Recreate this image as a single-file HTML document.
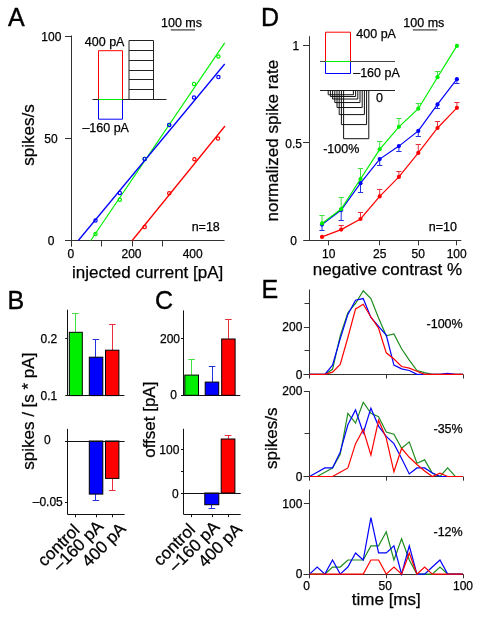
<!DOCTYPE html>
<html><head><meta charset="utf-8"><style>
html,body{margin:0;padding:0;background:#fff;width:482px;height:617px;overflow:hidden}
svg{display:block;will-change:transform}
text{font-family:"Liberation Sans", sans-serif;fill:#000;stroke:#000;stroke-width:0.25px}
</style></head><body>
<svg width="482" height="617" viewBox="0 0 482 617">
<rect width="482" height="617" fill="#fff"/>
<text x="8" y="26" font-size="25" text-anchor="start" style="stroke-width:0.4px">A</text>
<line x1="71.5" y1="35.5" x2="71.5" y2="246.5" stroke="#333" stroke-width="1"/>
<line x1="65" y1="240.5" x2="224.5" y2="240.5" stroke="#333" stroke-width="1"/>
<line x1="65" y1="36.5" x2="71.5" y2="36.5" stroke="#333" stroke-width="1"/>
<line x1="65" y1="138.5" x2="71.5" y2="138.5" stroke="#333" stroke-width="1"/>
<line x1="71.5" y1="240.5" x2="71.5" y2="246.5" stroke="#333" stroke-width="1"/>
<line x1="101.5" y1="240.5" x2="101.5" y2="246.5" stroke="#333" stroke-width="1"/>
<line x1="132.5" y1="240.5" x2="132.5" y2="246.5" stroke="#333" stroke-width="1"/>
<line x1="162.5" y1="240.5" x2="162.5" y2="246.5" stroke="#333" stroke-width="1"/>
<text x="51.3" y="40.8" font-size="12" text-anchor="middle" >100</text>
<text x="51.0" y="142.6" font-size="12" text-anchor="middle" >50</text>
<text x="51.2" y="245.0" font-size="12" text-anchor="middle" >0</text>
<text x="70.9" y="258.0" font-size="12" text-anchor="middle" >0</text>
<text x="131.5" y="258.0" font-size="12" text-anchor="middle" >200</text>
<text x="192.7" y="258.0" font-size="12" text-anchor="middle" >400</text>
<text x="72.1" y="277.6" font-size="17" text-anchor="start" >injected current [pA]</text>
<text x="0" y="0" font-size="17" text-anchor="middle" transform="translate(33.8,135) rotate(-90)">spikes/s</text>
<text x="219.8" y="231" font-size="12.5" text-anchor="end" >n=18</text>
<text x="161" y="26.6" font-size="12.5" text-anchor="start" >100 ms</text>
<line x1="170.7" y1="29.9" x2="195.1" y2="29.9" stroke="#555" stroke-width="1.4"/>
<path d="M98.5,99.7 V50.7 H122.5 V99.7" stroke="#ff0000" stroke-width="1" fill="none" />
<path d="M98.5,99.7 V119.2 H122.5 V99.7" stroke="#0000ff" stroke-width="1" fill="none" />
<line x1="92.5" y1="99.5" x2="166.5" y2="99.5" stroke="#222" stroke-width="1"/>
<line x1="98.5" y1="99.5" x2="122.5" y2="99.5" stroke="#00ee00" stroke-width="1"/>
<path d="M129,99.7 V40.5 H153.5 V99.7" stroke="#222" stroke-width="1" fill="none" />
<line x1="129" y1="50.5" x2="153.5" y2="50.5" stroke="#222" stroke-width="1"/>
<line x1="129" y1="60.5" x2="153.5" y2="60.5" stroke="#222" stroke-width="1"/>
<line x1="129" y1="70.5" x2="153.5" y2="70.5" stroke="#222" stroke-width="1"/>
<line x1="129" y1="79.5" x2="153.5" y2="79.5" stroke="#222" stroke-width="1"/>
<line x1="129" y1="89.5" x2="153.5" y2="89.5" stroke="#222" stroke-width="1"/>
<text x="84.8" y="45.8" font-size="12.5" text-anchor="start" >400 pA</text>
<text x="82.4" y="132" font-size="12.5" text-anchor="start" >–160 pA</text>
<line x1="90.7" y1="240.5" x2="224.7" y2="42.9" stroke="#00ee00" stroke-width="1.15"/>
<line x1="78.3" y1="240.5" x2="224.7" y2="64" stroke="#0000ff" stroke-width="1.3"/>
<line x1="132.2" y1="240.5" x2="225" y2="126" stroke="#ff0000" stroke-width="1.3"/>
<circle cx="95.5" cy="234.00" r="1.65" stroke="#00ee00" stroke-width="1.2" fill="none"/>
<circle cx="119.8" cy="199.80" r="1.65" stroke="#00ee00" stroke-width="1.2" fill="none"/>
<circle cx="144.7" cy="158.90" r="1.65" stroke="#00ee00" stroke-width="1.2" fill="none"/>
<circle cx="169.2" cy="124.90" r="1.65" stroke="#00ee00" stroke-width="1.2" fill="none"/>
<circle cx="194" cy="83.90" r="1.65" stroke="#00ee00" stroke-width="1.2" fill="none"/>
<circle cx="218.4" cy="56.50" r="1.65" stroke="#00ee00" stroke-width="1.2" fill="none"/>
<circle cx="95.5" cy="220.50" r="1.65" stroke="#0000ff" stroke-width="1.2" fill="none"/>
<circle cx="119.8" cy="192.90" r="1.65" stroke="#0000ff" stroke-width="1.2" fill="none"/>
<circle cx="144.7" cy="158.90" r="1.65" stroke="#0000ff" stroke-width="1.2" fill="none"/>
<circle cx="169.2" cy="124.90" r="1.65" stroke="#0000ff" stroke-width="1.2" fill="none"/>
<circle cx="194" cy="97.50" r="1.65" stroke="#0000ff" stroke-width="1.2" fill="none"/>
<circle cx="218.4" cy="77.10" r="1.65" stroke="#0000ff" stroke-width="1.2" fill="none"/>
<circle cx="144.7" cy="227.10" r="1.65" stroke="#ff0000" stroke-width="1.2" fill="none"/>
<circle cx="169.2" cy="193.30" r="1.65" stroke="#ff0000" stroke-width="1.2" fill="none"/>
<circle cx="194.4" cy="159.30" r="1.65" stroke="#ff0000" stroke-width="1.2" fill="none"/>
<circle cx="218" cy="138.60" r="1.65" stroke="#ff0000" stroke-width="1.2" fill="none"/>
<text x="261.0" y="25.9" font-size="25" text-anchor="start" style="stroke-width:0.4px">D</text>
<line x1="309.5" y1="36.2" x2="309.5" y2="240.5" stroke="#333" stroke-width="1"/>
<line x1="303.2" y1="240.5" x2="461.3" y2="240.5" stroke="#333" stroke-width="1"/>
<line x1="303" y1="45.5" x2="309.5" y2="45.5" stroke="#333" stroke-width="1"/>
<line x1="303" y1="142.5" x2="309.5" y2="142.5" stroke="#333" stroke-width="1"/>
<line x1="328.5" y1="240.5" x2="328.5" y2="245.3" stroke="#333" stroke-width="1"/>
<text x="328.8" y="257.5" font-size="12" text-anchor="middle" >10</text>
<line x1="379.5" y1="240.5" x2="379.5" y2="245.3" stroke="#333" stroke-width="1"/>
<text x="379.69652710915364" y="257.5" font-size="12" text-anchor="middle" >25</text>
<line x1="418.5" y1="240.5" x2="418.5" y2="245.3" stroke="#333" stroke-width="1"/>
<text x="418.19826355457684" y="257.5" font-size="12" text-anchor="middle" >50</text>
<line x1="456.5" y1="240.5" x2="456.5" y2="245.3" stroke="#333" stroke-width="1"/>
<text x="456.70000000000005" y="257.5" font-size="12" text-anchor="middle" >100</text>
<text x="299.2" y="49.9" font-size="12" text-anchor="end" >1</text>
<text x="301.9" y="147.6" font-size="12" text-anchor="end" >0.5</text>
<text x="297" y="244.8" font-size="12" text-anchor="end" >0</text>
<text x="312.8" y="274.9" font-size="17" text-anchor="start" >negative contrast %</text>
<text x="0" y="0" font-size="17" text-anchor="middle" transform="translate(277.5,140.7) rotate(-90)">normalized spike rate</text>
<text x="456.9" y="231.2" font-size="12.5" text-anchor="end" >n=10</text>
<text x="403.3" y="26.6" font-size="12.5" text-anchor="start" >100 ms</text>
<line x1="412.9" y1="29.9" x2="437.3" y2="29.9" stroke="#555" stroke-width="1.4"/>
<path d="M325.5,61.8 V32.2 H350.5 V61.8" stroke="#ff0000" stroke-width="1" fill="none" />
<path d="M325.5,61.8 V73.5 H350.5 V61.8" stroke="#0000ff" stroke-width="1" fill="none" />
<line x1="320" y1="61.5" x2="395" y2="61.5" stroke="#444" stroke-width="1"/>
<line x1="325.5" y1="61.5" x2="350.5" y2="61.5" stroke="#00ee00" stroke-width="1"/>
<text x="356.3" y="38.3" font-size="12.5" text-anchor="start" >400 pA</text>
<text x="353.2" y="77.1" font-size="12.5" text-anchor="start" >–160 pA</text>
<line x1="320" y1="90.5" x2="395" y2="90.5" stroke="#222" stroke-width="1"/>
<path d="M343.60,90.5 V138.70 H368.80 V90.5" stroke="#111" stroke-width="1" fill="none" />
<path d="M341.40,90.5 V124.58 H366.60 V90.5" stroke="#111" stroke-width="1" fill="none" />
<path d="M339.20,90.5 V114.60 H364.40 V90.5" stroke="#111" stroke-width="1" fill="none" />
<path d="M337.00,90.5 V107.54 H362.20 V90.5" stroke="#111" stroke-width="1" fill="none" />
<path d="M334.80,90.5 V102.55 H360.00 V90.5" stroke="#111" stroke-width="1" fill="none" />
<path d="M332.60,90.5 V99.02 H357.80 V90.5" stroke="#111" stroke-width="1" fill="none" />
<path d="M330.40,90.5 V96.53 H355.60 V90.5" stroke="#111" stroke-width="1" fill="none" />
<path d="M328.20,90.5 V94.76 H353.40 V90.5" stroke="#111" stroke-width="1" fill="none" />
<text x="376" y="101.6" font-size="12.5" text-anchor="start" >0</text>
<text x="323.2" y="152.9" font-size="12.5" text-anchor="start" >-100%</text>
<line x1="341.2" y1="229.6" x2="341.2" y2="225.1" stroke="#e8303c" stroke-width="1"/>
<line x1="338.59999999999997" y1="225.5" x2="343.8" y2="225.5" stroke="#e8303c" stroke-width="1"/>
<line x1="360.5" y1="219" x2="360.5" y2="212.6" stroke="#e8303c" stroke-width="1"/>
<line x1="357.9" y1="212.5" x2="363.1" y2="212.5" stroke="#e8303c" stroke-width="1"/>
<line x1="379.7" y1="196.4" x2="379.7" y2="189.8" stroke="#e8303c" stroke-width="1"/>
<line x1="377.09999999999997" y1="189.5" x2="382.3" y2="189.5" stroke="#e8303c" stroke-width="1"/>
<line x1="398.9" y1="176.9" x2="398.9" y2="171.5" stroke="#e8303c" stroke-width="1"/>
<line x1="396.29999999999995" y1="171.5" x2="401.5" y2="171.5" stroke="#e8303c" stroke-width="1"/>
<line x1="418.3" y1="152.9" x2="418.3" y2="144.5" stroke="#e8303c" stroke-width="1"/>
<line x1="415.7" y1="144.5" x2="420.90000000000003" y2="144.5" stroke="#e8303c" stroke-width="1"/>
<line x1="437.5" y1="128" x2="437.5" y2="121.8" stroke="#e8303c" stroke-width="1"/>
<line x1="434.9" y1="121.5" x2="440.1" y2="121.5" stroke="#e8303c" stroke-width="1"/>
<line x1="456.9" y1="107.8" x2="456.9" y2="102.6" stroke="#e8303c" stroke-width="1"/>
<line x1="454.29999999999995" y1="102.5" x2="459.5" y2="102.5" stroke="#e8303c" stroke-width="1"/>
<path d="M322.00,236.90 L341.20,229.60 L360.50,219.00 L379.70,196.40 L398.90,176.90 L418.30,152.90 L437.50,128.00 L456.90,107.80" stroke="#ff0000" stroke-width="1.2" fill="none" stroke-linejoin="miter"/>
<circle cx="322" cy="236.9" r="2.1" fill="#ff0000"/>
<circle cx="341.2" cy="229.6" r="2.1" fill="#ff0000"/>
<circle cx="360.5" cy="219" r="2.1" fill="#ff0000"/>
<circle cx="379.7" cy="196.4" r="2.1" fill="#ff0000"/>
<circle cx="398.9" cy="176.9" r="2.1" fill="#ff0000"/>
<circle cx="418.3" cy="152.9" r="2.1" fill="#ff0000"/>
<circle cx="437.5" cy="128" r="2.1" fill="#ff0000"/>
<circle cx="456.9" cy="107.8" r="2.1" fill="#ff0000"/>
<line x1="322" y1="224.6" x2="322" y2="230.9" stroke="#2233dd" stroke-width="1"/>
<line x1="319.4" y1="230.5" x2="324.6" y2="230.5" stroke="#2233dd" stroke-width="1"/>
<line x1="341.2" y1="210.1" x2="341.2" y2="220.9" stroke="#2233dd" stroke-width="1"/>
<line x1="338.59999999999997" y1="220.5" x2="343.8" y2="220.5" stroke="#2233dd" stroke-width="1"/>
<line x1="360.5" y1="183.2" x2="360.5" y2="192.3" stroke="#2233dd" stroke-width="1"/>
<line x1="357.9" y1="192.5" x2="363.1" y2="192.5" stroke="#2233dd" stroke-width="1"/>
<line x1="379.7" y1="159.1" x2="379.7" y2="165.9" stroke="#2233dd" stroke-width="1"/>
<line x1="377.09999999999997" y1="165.5" x2="382.3" y2="165.5" stroke="#2233dd" stroke-width="1"/>
<line x1="398.9" y1="146.1" x2="398.9" y2="151.4" stroke="#2233dd" stroke-width="1"/>
<line x1="396.29999999999995" y1="151.5" x2="401.5" y2="151.5" stroke="#2233dd" stroke-width="1"/>
<line x1="418.3" y1="130.9" x2="418.3" y2="136.1" stroke="#2233dd" stroke-width="1"/>
<line x1="415.7" y1="136.5" x2="420.90000000000003" y2="136.5" stroke="#2233dd" stroke-width="1"/>
<line x1="437.5" y1="104.4" x2="437.5" y2="108.2" stroke="#2233dd" stroke-width="1"/>
<line x1="434.9" y1="108.5" x2="440.1" y2="108.5" stroke="#2233dd" stroke-width="1"/>
<line x1="456.9" y1="79.2" x2="456.9" y2="83.3" stroke="#2233dd" stroke-width="1"/>
<line x1="454.29999999999995" y1="83.5" x2="459.5" y2="83.5" stroke="#2233dd" stroke-width="1"/>
<path d="M322.00,224.60 L341.20,210.10 L360.50,183.20 L379.70,159.10 L398.90,146.10 L418.30,130.90 L437.50,104.40 L456.90,79.20" stroke="#0000ff" stroke-width="1.2" fill="none" stroke-linejoin="miter"/>
<circle cx="322" cy="224.6" r="2.1" fill="#0000ff"/>
<circle cx="341.2" cy="210.1" r="2.1" fill="#0000ff"/>
<circle cx="360.5" cy="183.2" r="2.1" fill="#0000ff"/>
<circle cx="379.7" cy="159.1" r="2.1" fill="#0000ff"/>
<circle cx="398.9" cy="146.1" r="2.1" fill="#0000ff"/>
<circle cx="418.3" cy="130.9" r="2.1" fill="#0000ff"/>
<circle cx="437.5" cy="104.4" r="2.1" fill="#0000ff"/>
<circle cx="456.9" cy="79.2" r="2.1" fill="#0000ff"/>
<line x1="322" y1="223.4" x2="322" y2="215.1" stroke="#40e040" stroke-width="1"/>
<line x1="319.4" y1="215.5" x2="324.6" y2="215.5" stroke="#40e040" stroke-width="1"/>
<line x1="341.2" y1="209.1" x2="341.2" y2="197.5" stroke="#40e040" stroke-width="1"/>
<line x1="338.59999999999997" y1="197.5" x2="343.8" y2="197.5" stroke="#40e040" stroke-width="1"/>
<line x1="360.5" y1="179" x2="360.5" y2="168.4" stroke="#40e040" stroke-width="1"/>
<line x1="357.9" y1="168.5" x2="363.1" y2="168.5" stroke="#40e040" stroke-width="1"/>
<line x1="379.7" y1="149.3" x2="379.7" y2="141.7" stroke="#40e040" stroke-width="1"/>
<line x1="377.09999999999997" y1="141.5" x2="382.3" y2="141.5" stroke="#40e040" stroke-width="1"/>
<line x1="398.9" y1="126.8" x2="398.9" y2="118" stroke="#40e040" stroke-width="1"/>
<line x1="396.29999999999995" y1="118.5" x2="401.5" y2="118.5" stroke="#40e040" stroke-width="1"/>
<line x1="418.3" y1="108.7" x2="418.3" y2="103" stroke="#40e040" stroke-width="1"/>
<line x1="415.7" y1="103.5" x2="420.90000000000003" y2="103.5" stroke="#40e040" stroke-width="1"/>
<line x1="437.5" y1="77.2" x2="437.5" y2="71.5" stroke="#40e040" stroke-width="1"/>
<line x1="434.9" y1="71.5" x2="440.1" y2="71.5" stroke="#40e040" stroke-width="1"/>
<path d="M322.00,223.40 L341.20,209.10 L360.50,179.00 L379.70,149.30 L398.90,126.80 L418.30,108.70 L437.50,77.20 L456.90,45.90" stroke="#00ee00" stroke-width="1.2" fill="none" stroke-linejoin="miter"/>
<circle cx="322" cy="223.4" r="2.1" fill="#00ee00"/>
<circle cx="341.2" cy="209.1" r="2.1" fill="#00ee00"/>
<circle cx="360.5" cy="179" r="2.1" fill="#00ee00"/>
<circle cx="379.7" cy="149.3" r="2.1" fill="#00ee00"/>
<circle cx="398.9" cy="126.8" r="2.1" fill="#00ee00"/>
<circle cx="418.3" cy="108.7" r="2.1" fill="#00ee00"/>
<circle cx="437.5" cy="77.2" r="2.1" fill="#00ee00"/>
<circle cx="456.9" cy="45.9" r="2.1" fill="#00ee00"/>
<text x="7.4" y="308.6" font-size="25" text-anchor="start" style="stroke-width:0.4px">B</text>
<line x1="67.5" y1="309.7" x2="67.5" y2="395.6" stroke="#111" stroke-width="1"/>
<line x1="65.3" y1="395.5" x2="124.4" y2="395.5" stroke="#111" stroke-width="1"/>
<line x1="65.3" y1="338.5" x2="67.5" y2="338.5" stroke="#111" stroke-width="1"/>
<text x="57.2" y="342.5" font-size="12" text-anchor="end" >0.2</text>
<text x="57.2" y="399.7" font-size="12" text-anchor="end" >0.1</text>
<line x1="75.5" y1="332.3" x2="75.5" y2="313.4" stroke="#40e040" stroke-width="1"/>
<line x1="72.0" y1="313.5" x2="78.6" y2="313.5" stroke="#40e040" stroke-width="1"/>
<line x1="95.5" y1="357.2" x2="95.5" y2="339.4" stroke="#2233dd" stroke-width="1"/>
<line x1="92.60000000000001" y1="339.5" x2="99.2" y2="339.5" stroke="#2233dd" stroke-width="1"/>
<line x1="112.5" y1="350.2" x2="112.5" y2="324.8" stroke="#e8303c" stroke-width="1"/>
<line x1="109.0" y1="324.5" x2="115.6" y2="324.5" stroke="#e8303c" stroke-width="1"/>
<rect x="69.3" y="332.3" width="13.0" height="63.30000000000001" fill="#00ee00" stroke="#000" stroke-width="1"/>
<rect x="89.3" y="357.2" width="13.5" height="38.400000000000034" fill="#0000ff" stroke="#000" stroke-width="1"/>
<rect x="105.5" y="350.2" width="13.400000000000006" height="45.400000000000034" fill="#ff0000" stroke="#000" stroke-width="1"/>
<line x1="67.5" y1="428.9" x2="67.5" y2="514.5" stroke="#111" stroke-width="1"/>
<line x1="67.5" y1="514.5" x2="124.6" y2="514.5" stroke="#111" stroke-width="1"/>
<line x1="75.5" y1="514.5" x2="75.5" y2="517.3" stroke="#111" stroke-width="1"/>
<line x1="96.5" y1="514.5" x2="96.5" y2="517.3" stroke="#111" stroke-width="1"/>
<line x1="112.5" y1="514.5" x2="112.5" y2="517.3" stroke="#111" stroke-width="1"/>
<line x1="65" y1="502.5" x2="67.5" y2="502.5" stroke="#111" stroke-width="1"/>
<line x1="95.5" y1="494.1" x2="95.5" y2="500.3" stroke="#2233dd" stroke-width="1"/>
<line x1="92.60000000000001" y1="500.5" x2="99.2" y2="500.5" stroke="#2233dd" stroke-width="1"/>
<line x1="112.5" y1="478.4" x2="112.5" y2="490.1" stroke="#e8303c" stroke-width="1"/>
<line x1="109.0" y1="490.5" x2="115.6" y2="490.5" stroke="#e8303c" stroke-width="1"/>
<rect x="89.3" y="441" width="13.5" height="53.10000000000002" fill="#0000ff" stroke="#000" stroke-width="1"/>
<rect x="105.5" y="441" width="13.400000000000006" height="37.39999999999998" fill="#ff0000" stroke="#000" stroke-width="1"/>
<line x1="65" y1="441.5" x2="124.6" y2="441.5" stroke="#111" stroke-width="1"/>
<text x="50.6" y="444" font-size="12" text-anchor="end" >0</text>
<text x="62.8" y="506.2" font-size="12" text-anchor="end" >–0.05</text>
<text x="0" y="0" font-size="17" text-anchor="middle" transform="translate(33.5,411.2) rotate(-90)">spikes / [s * pA]</text>
<text x="0" y="0" font-size="17" text-anchor="end" transform="translate(80.6,531.1) rotate(-45)">control</text>
<text x="0" y="0" font-size="17" text-anchor="end" transform="translate(104.3,527.4) rotate(-45)">–160 pA</text>
<text x="0" y="0" font-size="17" text-anchor="end" transform="translate(126.9,529.8) rotate(-45)">400 pA</text>
<text x="155" y="308.6" font-size="25" text-anchor="start" style="stroke-width:0.4px">C</text>
<line x1="183.5" y1="310.4" x2="183.5" y2="395.3" stroke="#111" stroke-width="1"/>
<line x1="181" y1="395.5" x2="240.3" y2="395.5" stroke="#111" stroke-width="1"/>
<line x1="181" y1="338.5" x2="183.5" y2="338.5" stroke="#111" stroke-width="1"/>
<text x="180" y="342.5" font-size="12" text-anchor="end" >200</text>
<text x="177" y="398.7" font-size="12" text-anchor="end" >0</text>
<line x1="191.5" y1="375.1" x2="191.5" y2="359.2" stroke="#40e040" stroke-width="1"/>
<line x1="188.29999999999998" y1="359.5" x2="194.9" y2="359.5" stroke="#40e040" stroke-width="1"/>
<line x1="212.5" y1="382.1" x2="212.5" y2="366.4" stroke="#2233dd" stroke-width="1"/>
<line x1="208.79999999999998" y1="366.5" x2="215.4" y2="366.5" stroke="#2233dd" stroke-width="1"/>
<line x1="228.5" y1="339" x2="228.5" y2="319.3" stroke="#e8303c" stroke-width="1"/>
<line x1="225.1" y1="319.5" x2="231.70000000000002" y2="319.5" stroke="#e8303c" stroke-width="1"/>
<rect x="184.8" y="375.1" width="13.699999999999989" height="20.19999999999999" fill="#00ee00" stroke="#000" stroke-width="1"/>
<rect x="205.2" y="382.1" width="13.5" height="13.199999999999989" fill="#0000ff" stroke="#000" stroke-width="1"/>
<rect x="221.7" y="339" width="13.400000000000006" height="56.30000000000001" fill="#ff0000" stroke="#000" stroke-width="1"/>
<line x1="183.5" y1="428.8" x2="183.5" y2="514.3" stroke="#111" stroke-width="1"/>
<line x1="183.5" y1="514.5" x2="240.7" y2="514.5" stroke="#111" stroke-width="1"/>
<line x1="191.5" y1="514.3" x2="191.5" y2="517.2" stroke="#111" stroke-width="1"/>
<line x1="212.5" y1="514.3" x2="212.5" y2="517.2" stroke="#111" stroke-width="1"/>
<line x1="228.5" y1="514.3" x2="228.5" y2="517.2" stroke="#111" stroke-width="1"/>
<line x1="181" y1="449.5" x2="183.5" y2="449.5" stroke="#111" stroke-width="1"/>
<line x1="181" y1="471.5" x2="183.5" y2="471.5" stroke="#111" stroke-width="1"/>
<line x1="211.5" y1="504.7" x2="211.5" y2="508.2" stroke="#2233dd" stroke-width="1"/>
<line x1="208.6" y1="508.5" x2="215.20000000000002" y2="508.5" stroke="#2233dd" stroke-width="1"/>
<line x1="228.5" y1="439" x2="228.5" y2="435.5" stroke="#e8303c" stroke-width="1"/>
<line x1="224.79999999999998" y1="435.5" x2="231.4" y2="435.5" stroke="#e8303c" stroke-width="1"/>
<rect x="204.8" y="493" width="14.0" height="11.699999999999989" fill="#0000ff" stroke="#000" stroke-width="1"/>
<rect x="221.2" y="439" width="13.700000000000017" height="54" fill="#ff0000" stroke="#000" stroke-width="1"/>
<line x1="181" y1="493.5" x2="240.7" y2="493.5" stroke="#111" stroke-width="1"/>
<text x="179.4" y="453.8" font-size="12" text-anchor="end" >100</text>
<text x="178.8" y="497.9" font-size="12" text-anchor="end" >0</text>
<text x="0" y="0" font-size="17" text-anchor="middle" transform="translate(155,419.7) rotate(-90)">offset [pA]</text>
<text x="0" y="0" font-size="17" text-anchor="end" transform="translate(196.3,530.6) rotate(-45)">control</text>
<text x="0" y="0" font-size="17" text-anchor="end" transform="translate(220.4,527.9) rotate(-45)">–160 pA</text>
<text x="0" y="0" font-size="17" text-anchor="end" transform="translate(243.0,530.2) rotate(-45)">400 pA</text>
<text x="261.5" y="298" font-size="25" text-anchor="start" style="stroke-width:0.4px">E</text>
<line x1="309.5" y1="289.5" x2="309.5" y2="378.5" stroke="#333" stroke-width="1"/>
<line x1="303.5" y1="374.5" x2="463.0" y2="374.5" stroke="#333" stroke-width="1"/>
<line x1="303.9" y1="327.5" x2="309.5" y2="327.5" stroke="#333" stroke-width="1"/>
<line x1="303.9" y1="374.5" x2="309.5" y2="374.5" stroke="#333" stroke-width="1"/>
<line x1="304.5" y1="350.5" x2="309.5" y2="350.5" stroke="#333" stroke-width="1"/>
<line x1="304.5" y1="303.5" x2="309.5" y2="303.5" stroke="#333" stroke-width="1"/>
<line x1="386.5" y1="374.3" x2="386.5" y2="378.5" stroke="#333" stroke-width="1"/>
<line x1="463.5" y1="374.3" x2="463.5" y2="378.5" stroke="#333" stroke-width="1"/>
<text x="302.4" y="331.40000000000003" font-size="12" text-anchor="end" >200</text>
<text x="302.4" y="378.6" font-size="12" text-anchor="end" >0</text>
<path d="M309.50,374.30 L317.18,374.30 L324.85,374.30 L332.52,369.34 L340.20,335.83 L347.88,312.70 L355.55,303.50 L363.23,290.76 L370.90,298.54 L378.57,317.90 L386.25,335.83 L393.93,333.94 L401.60,348.81 L409.27,360.14 L416.95,370.52 L424.62,372.65 L432.30,374.30 L439.98,374.30 L447.65,374.30 L455.32,374.30 L463.00,374.30" stroke="#1e8c1e" stroke-width="1.2" fill="none" stroke-linejoin="miter"/>
<path d="M309.50,374.30 L317.18,374.30 L324.85,374.30 L332.52,365.10 L340.20,338.90 L347.88,314.36 L355.55,300.20 L363.23,298.54 L370.90,317.42 L378.57,326.39 L386.25,335.12 L393.93,365.10 L401.60,368.87 L409.27,370.52 L416.95,374.30 L424.62,374.30 L432.30,374.30 L439.98,374.30 L447.65,373.36 L455.32,374.30 L463.00,374.30" stroke="#0000ff" stroke-width="1.2" fill="none" stroke-linejoin="miter"/>
<path d="M309.50,374.30 L317.18,374.30 L324.85,374.30 L332.52,372.18 L340.20,364.39 L347.88,337.48 L355.55,308.93 L363.23,304.21 L370.90,316.95 L378.57,328.28 L386.25,352.82 L393.93,358.96 L401.60,366.51 L409.27,368.16 L416.95,371.23 L424.62,374.30 L432.30,374.30 L439.98,374.30 L447.65,374.30 L455.32,374.30 L463.00,374.30" stroke="#ff0000" stroke-width="1.2" fill="none" stroke-linejoin="miter"/>
<text x="462.7" y="328.4" font-size="12.5" text-anchor="end" >-100%</text>
<line x1="309.5" y1="391.2" x2="309.5" y2="480.7" stroke="#333" stroke-width="1"/>
<line x1="303.5" y1="476.5" x2="463.0" y2="476.5" stroke="#333" stroke-width="1"/>
<line x1="303.9" y1="391.5" x2="309.5" y2="391.5" stroke="#333" stroke-width="1"/>
<line x1="303.9" y1="476.5" x2="309.5" y2="476.5" stroke="#333" stroke-width="1"/>
<line x1="304.5" y1="433.5" x2="309.5" y2="433.5" stroke="#333" stroke-width="1"/>
<line x1="386.5" y1="476.5" x2="386.5" y2="480.7" stroke="#333" stroke-width="1"/>
<line x1="463.5" y1="476.5" x2="463.5" y2="480.7" stroke="#333" stroke-width="1"/>
<text x="302.4" y="395.40000000000003" font-size="12" text-anchor="end" >200</text>
<text x="302.4" y="480.8" font-size="12" text-anchor="end" >0</text>
<path d="M309.50,476.50 L317.18,476.50 L324.85,472.23 L332.52,467.96 L340.20,454.30 L347.88,413.30 L355.55,423.12 L363.23,402.20 L370.90,413.30 L378.57,416.72 L386.25,432.09 L393.93,434.23 L401.60,448.32 L409.27,441.91 L416.95,463.26 L424.62,459.85 L432.30,473.08 L439.98,476.50 L447.65,467.96 L455.32,476.50 L463.00,476.50" stroke="#1e8c1e" stroke-width="1.2" fill="none" stroke-linejoin="miter"/>
<path d="M309.50,476.50 L317.18,472.23 L324.85,467.96 L332.52,467.96 L340.20,452.16 L347.88,424.83 L355.55,409.89 L363.23,432.95 L370.90,408.18 L378.57,426.11 L386.25,436.36 L393.93,443.62 L401.60,458.57 L409.27,473.94 L416.95,467.96 L424.62,467.96 L432.30,473.08 L439.98,476.50 L447.65,476.50 L455.32,476.50 L463.00,476.50" stroke="#0000ff" stroke-width="1.2" fill="none" stroke-linejoin="miter"/>
<path d="M309.50,476.50 L317.18,476.50 L324.85,476.50 L332.52,476.50 L340.20,472.23 L347.88,467.96 L355.55,443.62 L363.23,429.53 L370.90,455.15 L378.57,420.14 L386.25,438.07 L393.93,471.80 L401.60,448.32 L409.27,457.29 L416.95,464.54 L424.62,470.95 L432.30,476.50 L439.98,473.08 L447.65,476.50 L455.32,476.50 L463.00,476.50" stroke="#ff0000" stroke-width="1.2" fill="none" stroke-linejoin="miter"/>
<text x="462.7" y="432.6" font-size="12.5" text-anchor="end" >-35%</text>
<line x1="309.5" y1="489.5" x2="309.5" y2="578.3000000000001" stroke="#333" stroke-width="1"/>
<line x1="303.5" y1="574.5" x2="463.0" y2="574.5" stroke="#333" stroke-width="1"/>
<line x1="303.9" y1="503.5" x2="309.5" y2="503.5" stroke="#333" stroke-width="1"/>
<line x1="303.9" y1="574.5" x2="309.5" y2="574.5" stroke="#333" stroke-width="1"/>
<line x1="386.5" y1="574.1" x2="386.5" y2="578.3000000000001" stroke="#333" stroke-width="1"/>
<line x1="463.5" y1="574.1" x2="463.5" y2="578.3000000000001" stroke="#333" stroke-width="1"/>
<text x="302.4" y="507.90000000000003" font-size="12" text-anchor="end" >100</text>
<text x="302.4" y="578.4" font-size="12" text-anchor="end" >0</text>
<path d="M309.50,574.10 L317.18,574.10 L324.85,574.10 L332.52,567.05 L340.20,567.05 L347.88,560.00 L355.55,560.00 L363.23,560.00 L370.90,545.90 L378.57,545.90 L386.25,531.80 L393.93,560.00 L401.60,538.85 L409.27,560.00 L416.95,574.10 L424.62,574.10 L432.30,574.10 L439.98,567.05 L447.65,574.10 L455.32,574.10 L463.00,574.10" stroke="#1e8c1e" stroke-width="1.2" fill="none" stroke-linejoin="miter"/>
<path d="M309.50,574.10 L317.18,567.05 L324.85,574.10 L332.52,560.00 L340.20,574.10 L347.88,567.05 L355.55,552.95 L363.23,560.00 L370.90,517.70 L378.57,552.95 L386.25,552.95 L393.93,545.90 L401.60,574.10 L409.27,545.90 L416.95,574.10 L424.62,574.10 L432.30,567.05 L439.98,560.00 L447.65,574.10 L455.32,574.10 L463.00,574.10" stroke="#0000ff" stroke-width="1.2" fill="none" stroke-linejoin="miter"/>
<path d="M309.50,574.10 L317.18,574.10 L324.85,574.10 L332.52,574.10 L340.20,574.10 L347.88,574.10 L355.55,574.10 L363.23,574.10 L370.90,560.00 L378.57,560.00 L386.25,574.10 L393.93,567.05 L401.60,574.10 L409.27,552.95 L416.95,574.10 L424.62,567.05 L432.30,574.10 L439.98,574.10 L447.65,574.10 L455.32,574.10 L463.00,574.10" stroke="#ff0000" stroke-width="1.2" fill="none" stroke-linejoin="miter"/>
<text x="462.7" y="536" font-size="12.5" text-anchor="end" >-12%</text>
<text x="306.7" y="589.7" font-size="12" text-anchor="middle" >0</text>
<text x="385.2" y="589.7" font-size="12" text-anchor="middle" >50</text>
<text x="463" y="589.7" font-size="12" text-anchor="middle" >100</text>
<text x="351.8" y="605.4" font-size="17" text-anchor="start" >time [ms]</text>
<text x="0" y="0" font-size="17" text-anchor="middle" transform="translate(277.3,438.2) rotate(-90)">spikes/s</text>
</svg></body></html>
